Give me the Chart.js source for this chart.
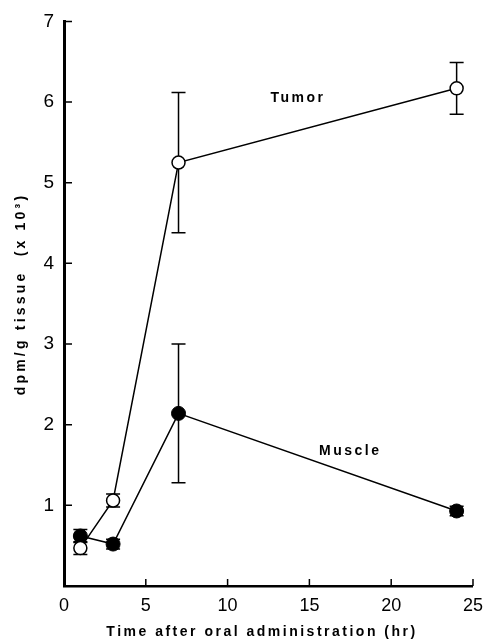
<!DOCTYPE html>
<html>
<head>
<meta charset="utf-8">
<script src="https://cdn.jsdelivr.net/npm/chart.js@4.4.1/dist/chart.umd.min.js"></script>
<style>
	body { margin: 0; background: #fff; }
	#wrap { width: 492px; height: 644px; position: relative; }
</style>
</head>
<body>
<div id="wrap"><canvas id="plot"></canvas></div>
<script>
// hours after oral dose
const times = [1, 3, 7, 24];

const tumorMean = [0.47, 1.06, 5.25, 6.17];
const tumorErr = [0.08, 0.08, 0.87, 0.32];

const muscleMean = [0.62, 0.52, 2.14, 0.93];
const muscleErr = [0.08, 0.06, 0.86, 0.06];

const yTicks = [1, 2, 3, 4, 5, 6, 7];
const xTicks = [0, 5, 10, 15, 20, 25];

const seriesLabels = [
	{ text: 'Tumor', x: 14.3, y: 6.05 },
	{ text: 'Muscle', x: 17.5, y: 1.67 },
];

const toPoints = (xs, ys) => xs.map((x, i) => ({ x: x, y: ys[i] }));

const errorBars = {
	id: 'errorBars',
	beforeDatasetsDraw(chart) {
		const ctx = chart.ctx;
		const xs = chart.scales.x;
		const ys = chart.scales.y;
		const sets = [[tumorMean, tumorErr], [muscleMean, muscleErr]];
		ctx.save();
		ctx.strokeStyle = '#000';
		ctx.lineWidth = 1.5;
		sets.forEach(([mean, err]) => {
			times.forEach((t, i) => {
				const px = xs.getPixelForValue(t);
				const top = ys.getPixelForValue(mean[i] + err[i]);
				const bot = ys.getPixelForValue(mean[i] - err[i]);
				ctx.beginPath();
				ctx.moveTo(px, top);
				ctx.lineTo(px, bot);
				ctx.moveTo(px - 7, top);
				ctx.lineTo(px + 7, top);
				ctx.moveTo(px - 7, bot);
				ctx.lineTo(px + 7, bot);
				ctx.stroke();
			});
		});
		ctx.restore();
	},
	afterDraw(chart) {
		const ctx = chart.ctx;
		const xs = chart.scales.x;
		const ys = chart.scales.y;
		const area = chart.chartArea;
		ctx.save();
		// inward tick marks
		ctx.strokeStyle = '#000';
		ctx.lineWidth = 1.5;
		ctx.beginPath();
		yTicks.forEach((v) => {
			const py = ys.getPixelForValue(v);
			ctx.moveTo(area.left, py);
			ctx.lineTo(area.left + 8, py);
		});
		xTicks.forEach((v) => {
			if (v === 0) return;
			const px = xs.getPixelForValue(v);
			ctx.moveTo(px, area.bottom);
			ctx.lineTo(px, area.bottom - 7);
		});
		ctx.stroke();

		ctx.fillStyle = '#000';
		ctx.font = 'bold 14px "Liberation Sans", Arial, sans-serif';
		ctx.letterSpacing = '2.5px';
		ctx.textAlign = 'center';
		ctx.textBaseline = 'middle';
		seriesLabels.forEach((l) => {
			ctx.fillText(l.text, xs.getPixelForValue(l.x), ys.getPixelForValue(l.y));
		});

		// axis titles
		ctx.fillText('Time after oral administration (hr)', 262, 632);
		ctx.translate(21, 294);
		ctx.rotate(-Math.PI / 2);
		ctx.letterSpacing = '3.2px';
		ctx.fillText('dpm/g tissue  (x 10³)', 0, 0);
		ctx.restore();
	},
};

const canvas = document.querySelector('#plot');
new Chart(canvas, {
	type: 'scatter',
	data: {
		datasets: [
			{
				label: 'Tumor',
				data: toPoints(times, tumorMean),
				showLine: true,
				borderColor: '#000',
				borderWidth: 1.5,
				pointRadius: 6.5,
				pointBackgroundColor: '#fff',
				pointBorderColor: '#000',
				pointBorderWidth: 1.5,
			},
			{
				label: 'Muscle',
				data: toPoints(times, muscleMean),
				showLine: true,
				borderColor: '#000',
				borderWidth: 1.5,
				pointRadius: 7,
				pointBackgroundColor: '#000',
				pointBorderColor: '#000',
				pointBorderWidth: 1,
			},
		],
	},
	options: {
		responsive: true,
		maintainAspectRatio: false,
		animation: false,
		layout: { padding: { top: 17, right: 15, left: 0, bottom: 0 } },
		plugins: {
			legend: { display: false },
			tooltip: { enabled: false },
		},
		scales: {
			x: {
				type: 'linear',
				min: 0,
				max: 25,
				afterFit: (s) => { s.height = 58; },
				afterBuildTicks: (s) => { s.ticks = xTicks.map((v) => ({ value: v })); },
				grid: { display: false, drawTicks: false },
				border: { display: true, color: '#000', width: 2.5 },
				ticks: {
					color: '#000',
					padding: 9,
					maxRotation: 0,
					font: { family: '"Liberation Sans", Arial, sans-serif', size: 18 },
				},
			},
			y: {
				min: 0,
				max: 7,
				afterFit: (s) => { s.width = 64; },
				afterBuildTicks: (s) => { s.ticks = yTicks.map((v) => ({ value: v })); },
				grid: { display: false, drawTicks: false },
				border: { display: true, color: '#000', width: 3 },
				ticks: {
					color: '#000',
					padding: 10,
					font: { family: '"Liberation Sans", Arial, sans-serif', size: 19 },
				},
			},
		},
	},
	plugins: [errorBars],
});
</script>
</body>
</html>
